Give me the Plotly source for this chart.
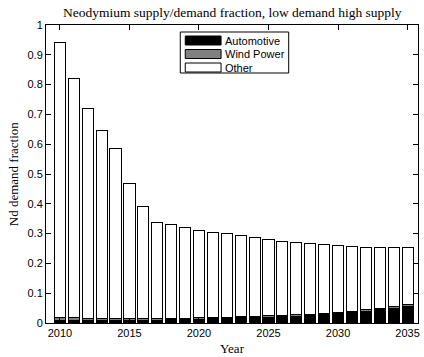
import plotly.graph_objects as go

years = list(range(2010, 2036))
automotive = [0.010, 0.009, 0.009, 0.009, 0.009, 0.010, 0.010, 0.010, 0.011, 0.012,
              0.013, 0.015, 0.016, 0.017, 0.019, 0.020, 0.021, 0.023, 0.025, 0.028,
              0.031, 0.035, 0.040, 0.044, 0.050, 0.055]
wind_power = [0.010, 0.009, 0.007, 0.006, 0.006, 0.004, 0.004, 0.004, 0.004, 0.004,
              0.004, 0.004, 0.004, 0.004, 0.004, 0.004, 0.004, 0.004, 0.004, 0.004,
              0.004, 0.004, 0.004, 0.004, 0.005, 0.008]
total = [0.942, 0.819, 0.721, 0.645, 0.584, 0.468, 0.392, 0.336, 0.329, 0.320,
         0.312, 0.305, 0.299, 0.292, 0.286, 0.280, 0.274, 0.270, 0.267, 0.263,
         0.260, 0.257, 0.255, 0.254, 0.254, 0.254]
other = [round(t - a - w, 4) for t, a, w in zip(total, automotive, wind_power)]

series_names = ["Automotive", "Wind Power", "Other"]
series_colors = ["#000000", "#808080", "#ffffff"]
x_ticks = [2010, 2015, 2020, 2025, 2030, 2035]
y_ticks = [0, 0.1, 0.2, 0.3, 0.4, 0.5, 0.6, 0.7, 0.8, 0.9, 1]
y_ticktext = ["0", "0.1", "0.2", "0.3", "0.4", "0.5", "0.6", "0.7", "0.8", "0.9", "1"]

W, H = 424, 357
L, R, T, B = 46, 4, 25, 34
PW, PH = W - L - R, H - T - B


def px(x):
    return (x - L) / PW


def py(y):
    return (H - B - y) / PH


fig = go.Figure()
for name, vals, col in zip(series_names, [automotive, wind_power, other], series_colors):
    fig.add_trace(go.Bar(x=years, y=vals, name=name,
                         marker=dict(color=col, line=dict(color="black", width=1)),
                         showlegend=False, hoverinfo="skip"))

tickfont = dict(family="Liberation Sans, Arial", size=11, color="black")
serif = "Liberation Serif, Times New Roman"

fig.update_layout(
    width=W, height=H,
    margin=dict(l=L, r=R, t=T, b=B),
    paper_bgcolor="white", plot_bgcolor="white",
    barmode="stack", bargap=0.2,
    xaxis=dict(range=[2009, 2035.75], tickvals=x_ticks, ticks="inside", ticklen=5,
               tickcolor="black", showline=True, linecolor="black", linewidth=1,
               mirror="ticks", showgrid=False, zeroline=False, tickfont=tickfont),
    yaxis=dict(range=[0, 1], tickvals=y_ticks, ticktext=y_ticktext, ticks="inside",
               ticklen=5, tickcolor="black", showline=True, linecolor="black",
               linewidth=1, mirror="ticks", showgrid=False, zeroline=False,
               tickfont=tickfont),
)

annotations = [
    dict(text="Neodymium supply/demand fraction, low demand high supply",
         x=px(234), y=py(12), xref="paper", yref="paper", showarrow=False,
         xanchor="center", yanchor="middle", font=dict(family=serif, size=13.5, color="black")),
    dict(text="Year", x=px(233), y=py(348), xref="paper", yref="paper", showarrow=False,
         xanchor="center", yanchor="middle", font=dict(family=serif, size=13, color="black")),
    dict(text="Nd demand fraction", x=px(13), y=py(174), xref="paper", yref="paper",
         showarrow=False, textangle=-90, xanchor="center", yanchor="middle",
         font=dict(family=serif, size=13, color="black")),
]

shapes = [dict(type="rect", xref="paper", yref="paper", x0=px(181), x1=px(290),
               y0=py(32), y1=py(73), line=dict(color="black", width=1), fillcolor="white")]
row_y = [40.5, 54, 67.5]
for name, col, ry in zip(series_names, series_colors, row_y):
    shapes.append(dict(type="rect", xref="paper", yref="paper", x0=px(186), x1=px(222),
                       y0=py(ry + 4.5), y1=py(ry - 4.5),
                       line=dict(color="black", width=1), fillcolor=col))
    annotations.append(dict(text=name, x=px(224), y=py(ry), xref="paper", yref="paper",
                            showarrow=False, xanchor="left", yanchor="middle",
                            font=dict(family="Liberation Sans, Arial", size=11, color="black")))

fig.update_layout(annotations=annotations, shapes=shapes)
fig.write_html("out.html", config={"displayModeBar": False},
               post_script="document.body.style.margin='0';document.body.style.overflow='hidden';")
